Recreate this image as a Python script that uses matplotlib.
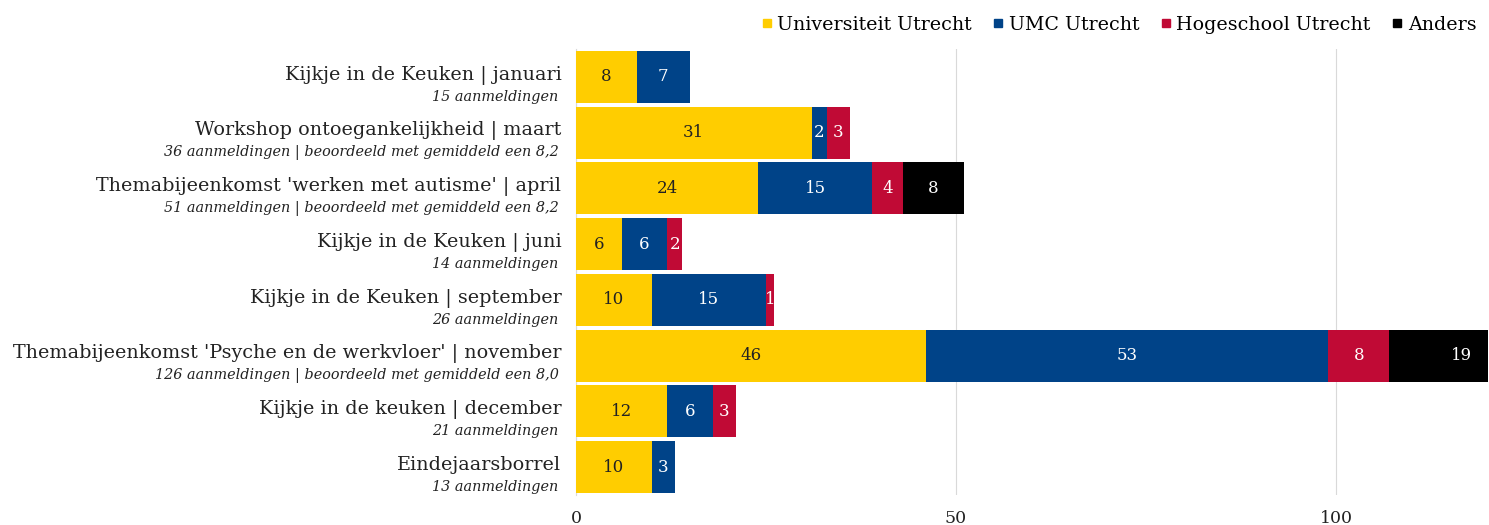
import matplotlib
matplotlib.use("Agg")
import matplotlib.pyplot as plt
import matplotlib.transforms as mtransforms
import numpy as np

categories = [
    "Kijkje in de Keuken | januari",
    "Workshop ontoegankelijkheid | maart",
    "Themabijeenkomst 'werken met autisme' | april",
    "Kijkje in de Keuken | juni",
    "Kijkje in de Keuken | september",
    "Themabijeenkomst 'Psyche en de werkvloer' | november",
    "Kijkje in de keuken | december",
    "Eindejaarsborrel",
]
subtitles = [
    "15 aanmeldingen",
    "36 aanmeldingen | beoordeeld met gemiddeld een 8,2",
    "51 aanmeldingen | beoordeeld met gemiddeld een 8,2",
    "14 aanmeldingen",
    "26 aanmeldingen",
    "126 aanmeldingen | beoordeeld met gemiddeld een 8,0",
    "21 aanmeldingen",
    "13 aanmeldingen",
]
series_names = ["Universiteit Utrecht", "UMC Utrecht", "Hogeschool Utrecht", "Anders"]
uu = [8, 31, 24, 6, 10, 46, 12, 10]
umc = [7, 2, 15, 6, 15, 53, 6, 3]
hu = [0, 3, 4, 2, 1, 8, 3, 0]
anders = [0, 0, 8, 0, 0, 19, 0, 0]
xticks = [0, 50, 100]

colors = ["#FFCD00", "#004388", "#C00A35", "#000000"]
text_colors = ["#222222", "white", "white", "white"]

plt.rcParams['font.family'] = ['DejaVu Serif']

fig = plt.figure(figsize=(14.89, 5.25), dpi=100)
ax = fig.add_axes([576/1489, 1 - 495/525, (1488-576)/1489, (495-49)/525])

y = np.arange(len(categories))
left = np.zeros(len(categories))
for vals, name, c, tc in zip([uu, umc, hu, anders], series_names, colors, text_colors):
    vals = np.array(vals, dtype=float)
    ax.barh(y, vals, left=left, height=0.93, color=c, label=name, zorder=2)
    for yi, (l, v) in enumerate(zip(left, vals)):
        if v > 0:
            ax.text(l + v / 2, yi, f"{int(v)}", ha="center", va="center",
                    color=tc, fontsize=12, zorder=3, clip_on=True)
    left += vals

ax.set_xlim(0, 120)
ax.set_ylim(len(categories) - 0.5, -0.5)
ax.set_xticks(xticks)
ax.set_xticklabels([str(t) for t in xticks], fontsize=12.5, color="#222222")
ax.tick_params(axis="x", length=0, pad=11)
ax.set_yticks([])
ax.grid(axis="x", color="#d9d9d9", linewidth=0.8, zorder=0)
for s in ["top", "right", "bottom"]:
    ax.spines[s].set_visible(False)
ax.spines["left"].set_color("#d9d9d9")
ax.spines["left"].set_zorder(1)

trans = mtransforms.blended_transform_factory(ax.transAxes, ax.transData)
for yi, (cat, sub) in enumerate(zip(categories, subtitles)):
    ax.text(-0.016, yi - 0.03, cat, transform=trans, ha="right", va="center",
            fontsize=13.8, color="#222222")
    ax.text(-0.019, yi + 0.36, sub, transform=trans, ha="right", va="center",
            fontsize=10.4, style="italic", color="#222222")

handles = [plt.Line2D([0], [0], marker="s", linestyle="none", markersize=6,
                      markerfacecolor=c, markeredgecolor=c) for c in colors]
fig.legend(handles, series_names, loc="upper right", bbox_to_anchor=(1.003, 1.003),
           ncol=4, frameon=False, fontsize=13.7, handletextpad=0.05,
           columnspacing=0.9, handlelength=1.0)

fig.savefig("out.png", dpi=100)
